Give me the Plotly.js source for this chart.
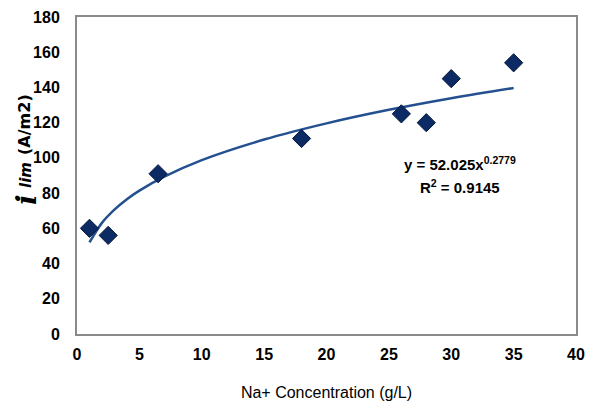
<!DOCTYPE html>
<html><head><meta charset="utf-8">
<script src="https://cdn.plot.ly/plotly-3.0.1.min.js"></script>
<style>html,body{margin:0;padding:0;background:#fff}</style>
</head><body>
<div id="chart" style="width:597px;height:420px"></div>
<script>
// Measured data
const naConc = [1, 2.5, 6.5, 18, 26, 28, 30, 35];
const iLim = [60, 56, 91, 111, 125, 120, 145, 154];
// Power trendline
const trendX = [1, 2, 3, 4, 5, 7, 10, 15, 20, 25, 30, 35];
const trendY = [52.0, 63.1, 70.6, 76.5, 81.4, 89.3, 98.7, 110.4, 119.6, 127.3, 133.9, 139.7];
const xTicks = [0, 5, 10, 15, 20, 25, 30, 35, 40];
const yTicks = [0, 20, 40, 60, 80, 100, 120, 140, 160, 180];

const sans = "Liberation Sans, Arial, sans-serif";

const data = [
  {x: trendX, y: trendY, mode: 'lines', type: 'scatter', line: {color: '#24508f', width: 2.5, shape: 'spline'}, hoverinfo: 'skip'},
  {x: naConc, y: iLim, mode: 'markers', type: 'scatter',
   marker: {symbol: 'diamond', size: 14, color: '#0c2a63', line: {color: '#06183d', width: 1}}}
];

const axisCommon = {
  showgrid: false, zeroline: false, showline: true, mirror: true,
  linecolor: '#8a8a8a', linewidth: 2, ticks: '',
  tickfont: {family: sans, size: 16, color: '#000', weight: 'bold'}
};

const layout = {
  width: 597, height: 420,
  margin: {l: 77, r: 21, t: 17, b: 86},
  paper_bgcolor: '#fff', plot_bgcolor: '#fff',
  showlegend: false,
  xaxis: Object.assign({}, axisCommon, {
    range: [0, 40], tickvals: xTicks, ticklabelstandoff: 5,
    title: {text: 'Na+ Concentration (g/L)', font: {family: sans, size: 16, color: '#000'}, standoff: 25}
  }),
  yaxis: Object.assign({}, axisCommon, {
    range: [0, 180], tickvals: yTicks, ticklabelstandoff: 12
  }),
  annotations: [
    {xref: 'paper', yref: 'y', x: 0, y: 118.7, xshift: -52, xanchor: 'center', yanchor: 'middle',
     textangle: -90, showarrow: false, text: '(A/m2)',
     font: {family: 'DejaVu Sans, sans-serif', size: 16, color: '#000', weight: 'bold'}},
    {xref: 'paper', yref: 'y', x: 0, y: 90.3, xshift: -51, xanchor: 'center', yanchor: 'middle',
     textangle: -90, showarrow: false, text: '<i>lim</i>',
     font: {family: 'DejaVu Sans, sans-serif', size: 15, color: '#000', weight: 'bold'}},
    {xref: 'paper', yref: 'y', x: 0, y: 76.1, xshift: -50, xanchor: 'center', yanchor: 'middle',
     textangle: -90, showarrow: false, text: '<i>i</i>',
     font: {family: 'DejaVu Serif, serif', size: 28, color: '#000', weight: 'bold'}},
    {xref: 'x', yref: 'y', x: 30.7, y: 97.1, showarrow: false, xanchor: 'center', yanchor: 'middle',
     text: 'y = 52.025x<sup>0.2779</sup>', font: {family: sans, size: 15, color: '#000', weight: 'bold'}},
    {xref: 'x', yref: 'y', x: 30.7, y: 83.5, showarrow: false, xanchor: 'center', yanchor: 'middle',
     text: 'R<sup>2</sup> = 0.9145', font: {family: sans, size: 15, color: '#000', weight: 'bold'}}
  ]
};

Plotly.newPlot('chart', data, layout, {displayModeBar: false, staticPlot: true});
</script>
</body></html>
